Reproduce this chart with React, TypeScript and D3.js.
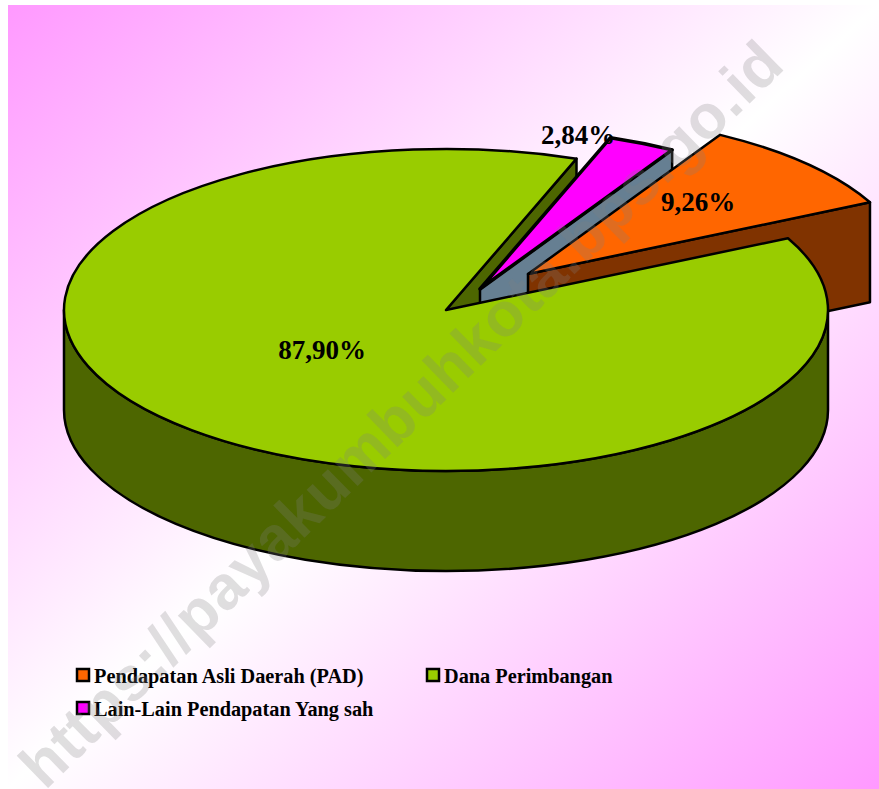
import React from "react";
import * as d3 from "d3";

const categories = ["Pendapatan Asli Daerah (PAD)", "Dana Perimbangan", "Lain-Lain Pendapatan Yang sah"];
const values = [9.26, 87.9, 2.84];
const valueLabels = ["9,26%", "87,90%", "2,84%"];
const topColors = ["#ff6600", "#99cc00", "#ff00ff"];
const wallColors = ["#803300", "#4d6600", "#667f92"];
const explode: [number, number][] = [[82, -36], [0, 0], [34, -21]];
const labelPos: [number, number][] = [[698, 211], [322, 359], [578, 144]];
const legendPos: [number, number][] = [[77, 669], [427, 669], [77, 702]];

const cx = 446, cy = 310, rx = 382, ry = 161, depth = 100;
const watermark = "https://payakumbuhkota.bps.go.id";

const arcs = d3.pie<number>().sort(null).value((d) => d)
  .startAngle((30.2 * Math.PI) / 180)
  .endAngle((390.2 * Math.PI) / 180)(values);

const pt = (a: number, i: number, dy = 0): [number, number] => [
  cx + explode[i][0] + rx * Math.sin(a),
  cy + explode[i][1] - ry * Math.cos(a) + dy,
];

function slicePath(i: number) {
  const { startAngle: s, endAngle: e } = arcs[i];
  const [x0, y0] = pt(s, i);
  const [x1, y1] = pt(e, i);
  const large = e - s > Math.PI ? 1 : 0;
  return `M${cx + explode[i][0]},${cy + explode[i][1]}L${x0},${y0}A${rx},${ry} 0 ${large} 1 ${x1},${y1}Z`;
}

function cutWall(i: number, a: number) {
  const ax = cx + explode[i][0], ay = cy + explode[i][1];
  const [x, y] = pt(a, i);
  return `M${ax},${ay}L${x},${y}L${x},${y + depth}L${ax},${ay + depth}Z`;
}

const rimPath = `M${cx - rx},${cy}L${cx - rx},${cy + depth}A${rx},${ry} 0 0 0 ${cx + rx},${cy + depth}L${cx + rx},${cy}A${rx},${ry} 0 0 1 ${cx - rx},${cy}Z`;

const stroke = { stroke: "#000", strokeWidth: 2.5, strokeLinejoin: "round" as const };

export default function App() {
  return (
    <svg width={879} height={789} style={{ position: "absolute", left: 0, top: 0, display: "block" }}>
      <defs>
        <linearGradient id="bg" x1="0" y1="0" x2="1" y2="1">
          <stop offset="0" stopColor="#ff99ff" />
          <stop offset="0.5" stopColor="#ffffff" />
          <stop offset="1" stopColor="#ff99ff" />
        </linearGradient>
      </defs>
      <rect x={0} y={0} width={879} height={789} fill="#fff" />
      <rect x={8} y={5} width={871} height={784} fill="url(#bg)" />

      <path d={cutWall(1, arcs[1].endAngle)} fill={wallColors[1]} {...stroke} />
      <path d={cutWall(2, arcs[2].endAngle)} fill={wallColors[2]} {...stroke} />
      <path d={slicePath(2)} fill={topColors[2]} {...stroke} strokeWidth={3.5} />
      <path d={cutWall(0, arcs[0].endAngle)} fill={wallColors[0]} {...stroke} />
      <path d={slicePath(0)} fill={topColors[0]} {...stroke} />
      <path d={rimPath} fill={wallColors[1]} {...stroke} />
      <path d={slicePath(1)} fill={topColors[1]} {...stroke} />

      <g fontFamily="'Liberation Serif', serif" fontWeight="bold" fill="#000">
        {valueLabels.map((t, i) => (
          <text key={t} x={labelPos[i][0]} y={labelPos[i][1]} fontSize={27} textAnchor="middle">{t}</text>
        ))}
        {categories.map((c, i) => (
          <g key={c}>
            <rect x={legendPos[i][0]} y={legendPos[i][1]} width={12} height={12} fill={topColors[i]} stroke="#000" strokeWidth={2.5} />
            <text x={legendPos[i][0] + 17} y={legendPos[i][1] + 14} fontSize={20.3}>{c}</text>
          </g>
        ))}
      </g>

      <text
        transform="translate(45,791) rotate(-44.3)"
        fontFamily="'Liberation Sans', sans-serif"
        fontWeight="bold"
        fontSize={62}
        fill="#808080"
        fillOpacity={0.25}
        textLength={1036}
        lengthAdjust="spacing"
      >
        {watermark}
      </text>
    </svg>
  );
}
